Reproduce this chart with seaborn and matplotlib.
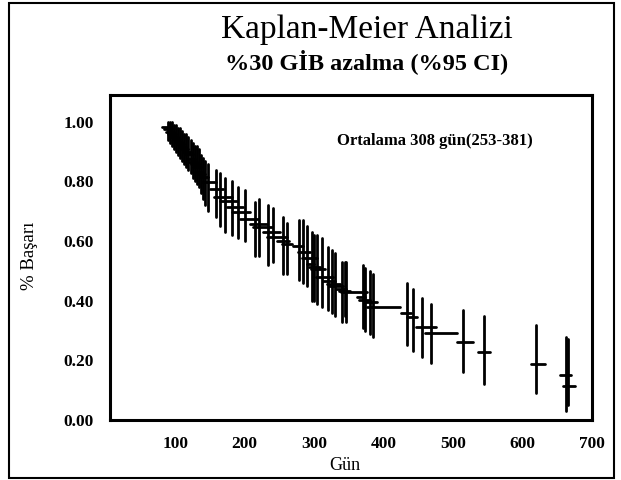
import numpy as np
import pandas as pd
import matplotlib
matplotlib.use("Agg")
import matplotlib.pyplot as plt
import seaborn as sns
from matplotlib.patches import Rectangle

# Kaplan-Meier events: day, survival, 95% CI and end of horizontal step
days = [89, 92, 95, 98, 101, 104, 107, 110, 113, 116, 119, 122, 125, 128, 131, 134, 137, 140, 143, 147,
        158, 164, 172, 182, 190, 201, 215, 220, 234, 240, 255, 261, 278, 284, 290, 297, 300, 304, 311, 320,
        326, 330, 340, 344, 346, 370, 373, 380, 384, 433, 442, 455, 468, 514, 544, 620, 662, 666]
surv = [0.983, 0.975, 0.966, 0.958, 0.950, 0.941, 0.933, 0.924, 0.916, 0.908, 0.899, 0.891, 0.874, 0.866,
        0.857, 0.849, 0.832, 0.824, 0.815, 0.798,
        0.774, 0.747, 0.734, 0.714, 0.697, 0.673, 0.657, 0.646, 0.630, 0.613, 0.599, 0.590, 0.582, 0.562,
        0.545, 0.522, 0.514, 0.505, 0.481, 0.465, 0.456, 0.448, 0.438, 0.433, 0.428, 0.411, 0.404, 0.397,
        0.380, 0.360, 0.347, 0.313, 0.293, 0.263, 0.229, 0.189, 0.152, 0.114]
ci_low = [0.94, 0.93, 0.92, 0.91, 0.90, 0.89, 0.88, 0.87, 0.86, 0.85, 0.84, 0.83, 0.81, 0.80, 0.79, 0.78,
          0.76, 0.74, 0.72, 0.70,
          0.68, 0.65, 0.63, 0.62, 0.61, 0.60, 0.55, 0.55, 0.52, 0.53, 0.49, 0.49, 0.47, 0.46, 0.45, 0.40,
          0.40, 0.39, 0.38, 0.37, 0.36, 0.35, 0.33, 0.35, 0.33, 0.31, 0.30, 0.29, 0.28, 0.25, 0.23, 0.21,
          0.19, 0.16, 0.12, 0.09, 0.03, 0.05]
ci_high = [1.00, 1.00, 1.00, 0.99, 0.99, 0.98, 0.98, 0.97, 0.96, 0.96, 0.95, 0.94, 0.93, 0.92, 0.92, 0.91,
           0.89, 0.88, 0.87, 0.86,
           0.84, 0.83, 0.81, 0.80, 0.78, 0.77, 0.73, 0.74, 0.72, 0.71, 0.68, 0.66, 0.67, 0.67, 0.65, 0.63,
           0.62, 0.62, 0.61, 0.58, 0.57, 0.56, 0.53, 0.53, 0.53, 0.52, 0.51, 0.50, 0.49, 0.46, 0.44, 0.41,
           0.39, 0.37, 0.35, 0.32, 0.28, 0.27]
step_end = [92, 95, 98, 101, 104, 107, 110, 113, 116, 119, 122, 125, 128, 131, 134, 137, 140, 143, 147, 158,
            168, 182, 189, 198, 208, 219, 232, 239, 251, 261, 264, 268, 284, 294, 304, 300, 308, 315, 327, 330,
            337, 341, 346, 351, 376, 373, 380, 390, 423, 440, 448, 476, 505, 528, 553, 632, 670, 675]

x_ticks = [100, 200, 300, 400, 500, 600, 700]
y_ticks = [0.0, 0.2, 0.4, 0.6, 0.8, 1.0]

sns.set_style("white")
plt.rcParams["font.family"] = ["Liberation Serif", "DejaVu Serif"]
plt.rcParams["text.color"] = "black"

fig = plt.figure(figsize=(6.21, 4.80), dpi=100)
ax = fig.add_axes([110 / 621, 1 - 420 / 480, (592 - 110) / 621, (420 - 95) / 480])

n = len(days)
ids = np.repeat(np.arange(n), 2)

# vertical CI bars
ci_df = pd.DataFrame({
    "day": np.repeat(days, 2),
    "value": np.column_stack([ci_low, ci_high]).ravel(),
    "id": ids,
})
# horizontal survival steps
step_df = pd.DataFrame({
    "day": np.column_stack([np.array(days) - 8, step_end]).ravel(),
    "value": np.repeat(surv, 2),
    "id": ids,
})

sns.lineplot(data=ci_df, x="day", y="value", units="id", estimator=None, sort=False,
             color="black", lw=2.0, ax=ax)
sns.lineplot(data=step_df, x="day", y="value", units="id", estimator=None, sort=False,
             color="black", lw=2.0, ax=ax)

ax.set_xlim(6, 700)
ax.set_ylim(0, 1.09)
ax.set_xticks(x_ticks)
ax.set_yticks(y_ticks)
ax.set_yticklabels([f"{v:.2f}" for v in y_ticks])
ax.set_xlabel("")
ax.set_ylabel("")
for sp in ax.spines.values():
    sp.set_visible(True)
    sp.set_color("black")
    sp.set_linewidth(2.2)
ax.tick_params(direction="inout", length=13, width=1.2, colors="black",
               labelsize=12.5, pad=5)
for lab in ax.get_xticklabels() + ax.get_yticklabels():
    lab.set_fontweight("bold")

ax.text(474, 0.936, "Ortalama 308 gün(253-381)", ha="center", va="center",
        fontsize=12, fontweight="bold")

fig.text(0.591, 0.9375, "Kaplan-Meier Analizi", ha="center", va="center", fontsize=24)
fig.text(0.591, 0.871, "%30 GİB azalma (%95 CI)", ha="center", va="center",
         fontsize=17.5, fontweight="bold")
fig.text(0.048, 0.467, "% Başarı", rotation=90, ha="center", va="center", fontsize=13.5)
fig.text(0.556, 6 / 480, "Gün", ha="center", va="bottom", fontsize=13)

fig.patches.append(Rectangle((9 / 621, 2 / 480), 605 / 621, 475 / 480, transform=fig.transFigure,
                             fill=False, edgecolor="black", lw=1.5))

fig.savefig("out.png", dpi=100)
